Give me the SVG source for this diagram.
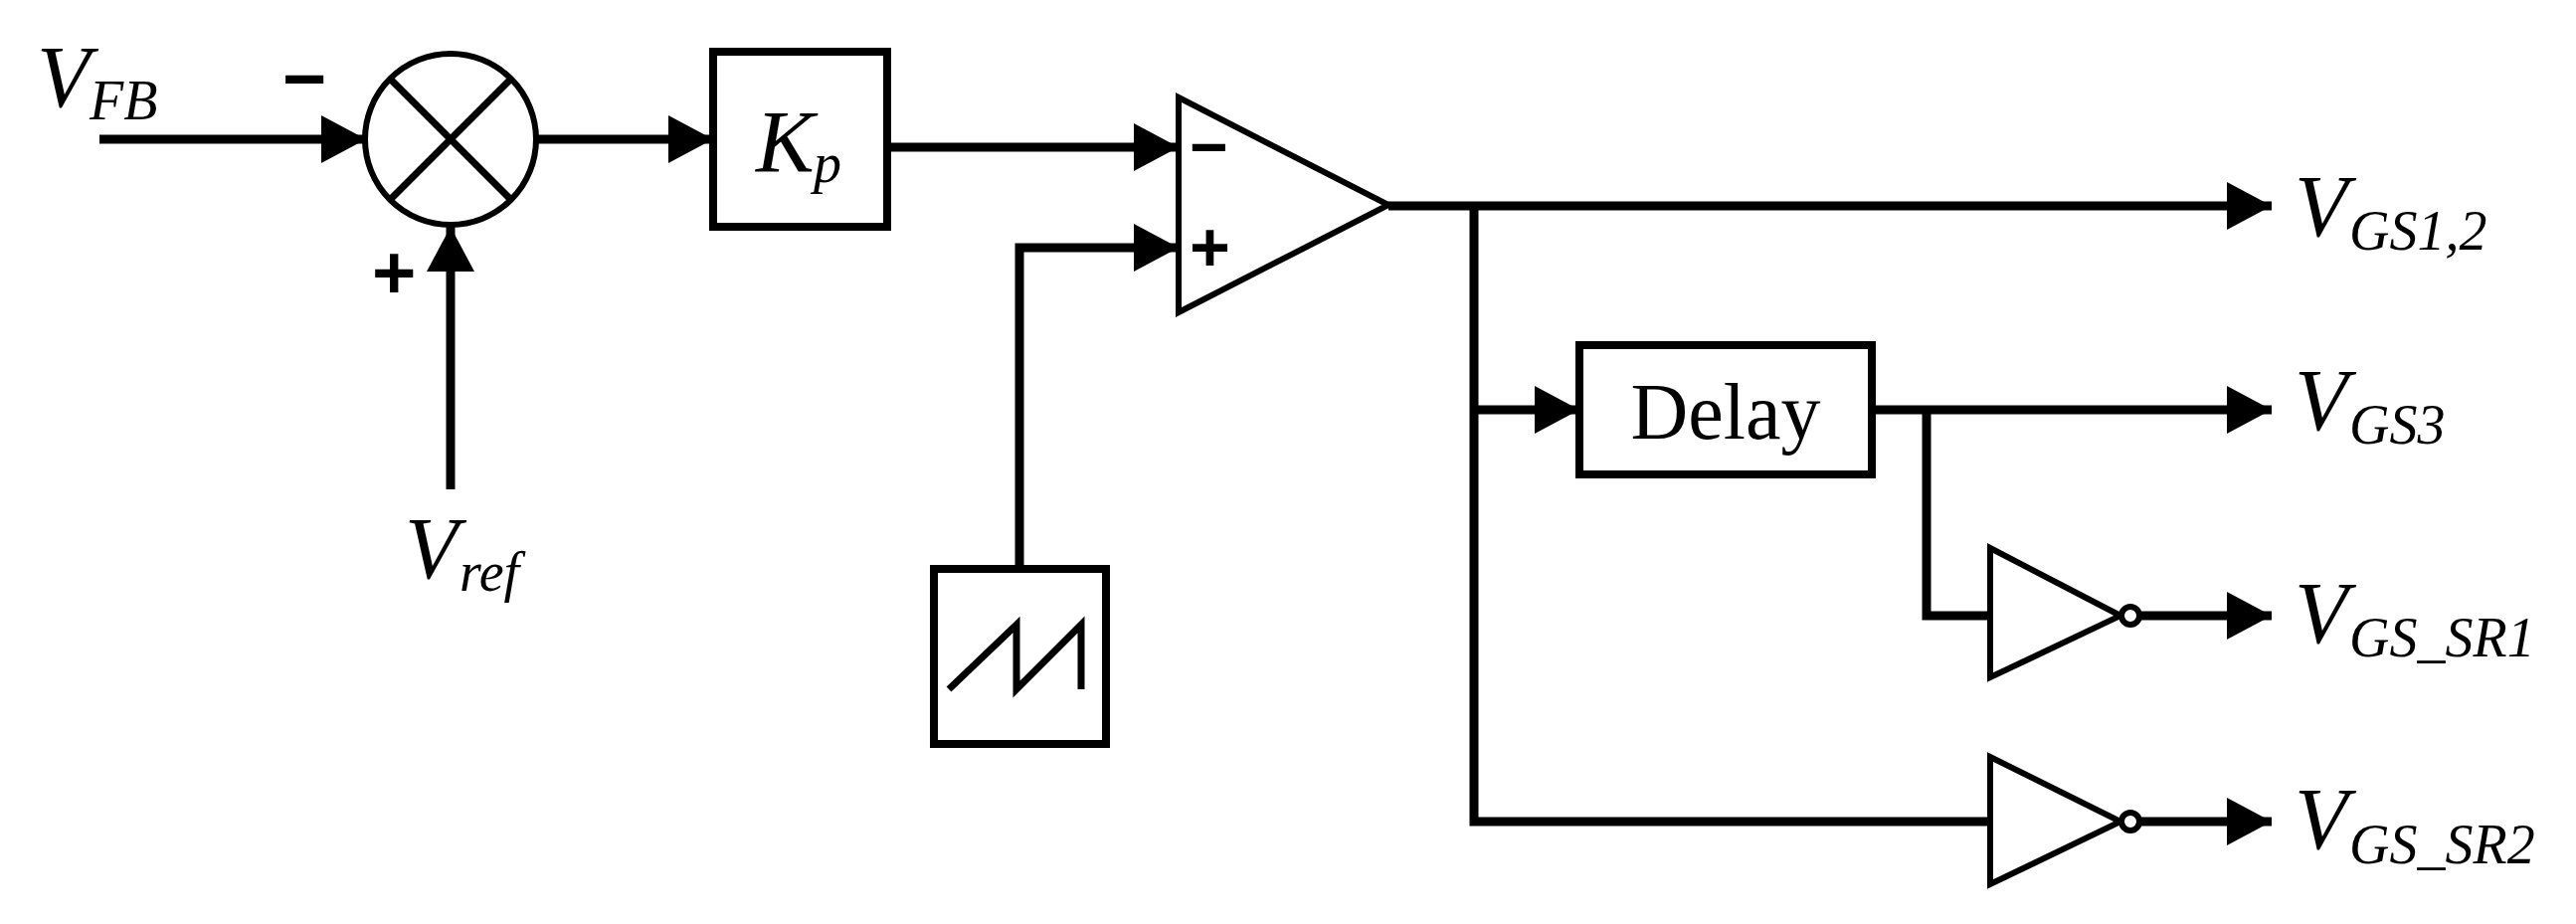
<svg xmlns="http://www.w3.org/2000/svg" width="2590" height="929" viewBox="0 0 2590 929">
<style>
.w{stroke:#000;stroke-width:9;fill:none;stroke-linecap:butt;stroke-linejoin:miter}
.b{stroke:#000;stroke-width:8;fill:#fff}
.t{stroke:#000;stroke-width:6;fill:#fff;stroke-linejoin:miter}
.i{font-family:"Liberation Serif",serif;font-style:italic;fill:#000}
.n{font-family:"Liberation Serif",serif;fill:#000}
.s{font-family:"Liberation Sans",sans-serif;font-weight:bold;fill:#000}
</style>
<defs>
<marker id="a" markerUnits="userSpaceOnUse" markerWidth="48" markerHeight="50" refX="45" refY="25" orient="auto"><path d="M0,1 L45,25 L0,49 Z" fill="#000"/></marker>
</defs>
<g id="connectors">
<path class="w" d="M100,140 H368" marker-end="url(#a)"/>
<path class="w" d="M453,492 V228" marker-end="url(#a)"/>
<path class="w" d="M539,140 H717" marker-end="url(#a)"/>
<path class="w" d="M892,148 H1185" marker-end="url(#a)"/>
<path class="w" d="M1025,572 V249 H1185" marker-end="url(#a)"/>
<path class="w" d="M1396,207 H2284" marker-end="url(#a)"/>
<path class="w" d="M1482,207 V826 H2001"/>
<path class="w" d="M1482,412 H1588" marker-end="url(#a)"/>
<path class="w" d="M1882,412 H2284" marker-end="url(#a)"/>
<path class="w" d="M1937,412 V619 H2001"/>
<path class="w" d="M2152,619 H2284" marker-end="url(#a)"/>
<path class="w" d="M2152,826 H2284" marker-end="url(#a)"/>
</g>
<g id="sum">
<circle cx="453" cy="140" r="86" fill="#fff" stroke="#000" stroke-width="6"/>
<path d="M392,79 L514,201 M514,79 L392,201" stroke="#000" stroke-width="7"/>
<text x="284" y="105" class="s" font-size="76">−</text>
<text x="374" y="300" class="s" font-size="76">+</text>
</g>
<g id="vfb"><text x="37" y="107" class="i" font-size="88">V</text><text x="90" y="120" class="i" font-size="56">FB</text></g>
<g id="vref"><text x="407" y="581" class="i" font-size="88">V</text><text x="462" y="594" class="i" font-size="56">ref</text></g>
<g id="kp"><rect x="717" y="52" width="175" height="176" class="b"/><text x="760" y="172" class="i" font-size="88">K</text><text x="818" y="183" class="i" font-size="56">p</text></g>
<g id="comparator"><path d="M1185,98 L1396,206 L1185,314 Z" class="t"/>
<text x="1196" y="170" class="s" font-size="66">−</text><text x="1196" y="273" class="s" font-size="70">+</text></g>
<g id="sawtooth"><rect x="939" y="572" width="173" height="176" class="b"/><path d="M954,693 L1022,628 V693 L1087,628 V693" fill="none" stroke="#000" stroke-width="7"/></g>
<g id="delay"><rect x="1588" y="347" width="294" height="130" class="b"/><text x="1735" y="441" class="n" font-size="80" text-anchor="middle">Delay</text></g>
<g id="inv1"><path d="M2001,551 L2132,619 L2001,681 Z" class="t"/><circle cx="2142" cy="619" r="9" fill="#fff" stroke="#000" stroke-width="6"/></g>
<g id="inv2"><path d="M2001,761 L2132,826 L2001,889 Z" class="t"/><circle cx="2142" cy="826" r="9" fill="#fff" stroke="#000" stroke-width="6"/></g>
<g id="labels">
<text x="2307" y="237" class="i" font-size="88">V</text><text x="2362" y="251" class="i" font-size="56">GS1,2</text>
<text x="2307" y="432" class="i" font-size="88">V</text><text x="2362" y="446" class="i" font-size="56">GS3</text>
<text x="2307" y="646" class="i" font-size="88">V</text><text x="2362" y="660" class="i" font-size="56">GS_SR1</text>
<text x="2307" y="853" class="i" font-size="88">V</text><text x="2362" y="868" class="i" font-size="56">GS_SR2</text>
</g>
</svg>
